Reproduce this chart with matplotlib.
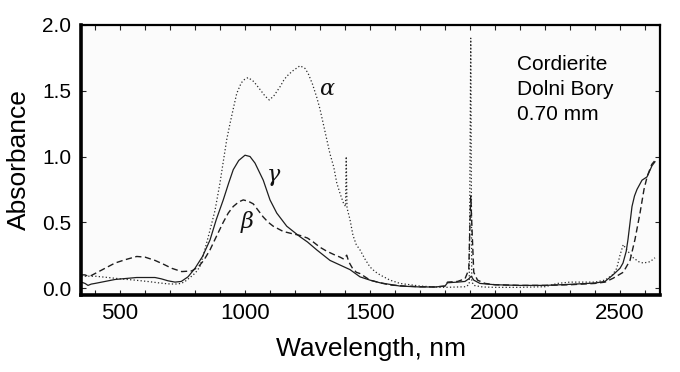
import matplotlib
matplotlib.use("Agg")
import matplotlib.pyplot as plt
from matplotlib.ticker import MultipleLocator, FormatStrFormatter

plt.rcParams['font.family'] = ['Liberation Sans', 'DejaVu Sans']

# gamma (solid)
gamma_x = [345, 360, 372, 385, 400, 440, 480, 520, 567, 640, 665, 692, 720, 745, 772, 800,
           830, 860, 885, 913, 935, 953, 975, 1000, 1020, 1040, 1073, 1100, 1127, 1167,
           1220, 1250, 1287, 1340, 1380, 1420, 1460, 1500, 1540, 1620, 1700, 1760, 1800,
           1810, 1850, 1880, 1895, 1905, 1915, 1940, 2000, 2100, 2200, 2300, 2400, 2440,
           2472, 2500, 2512, 2525, 2532, 2548, 2558, 2568, 2588, 2608, 2628, 2640]
gamma_y = [0.045, 0.035, 0.02, 0.03, 0.035, 0.05, 0.065, 0.072, 0.08, 0.08, 0.07, 0.055,
           0.045, 0.05, 0.085, 0.15, 0.24, 0.365, 0.52, 0.67, 0.80, 0.90, 0.97, 1.01, 1.0,
           0.95, 0.82, 0.67, 0.57, 0.47, 0.39, 0.35, 0.29, 0.21, 0.175, 0.14, 0.085, 0.06,
           0.04, 0.015, 0.008, 0.008, 0.015, 0.04, 0.045, 0.05, 0.07, 0.09, 0.06, 0.035,
           0.025, 0.02, 0.02, 0.028, 0.038, 0.05, 0.10, 0.15, 0.19, 0.28, 0.37, 0.62, 0.70,
           0.75, 0.82, 0.845, 0.93, 0.96]

# beta (dashed)
beta_x = [345, 360, 372, 385, 400, 440, 480, 520, 567, 600, 640, 675, 707, 747, 787, 813,
          835, 860, 885, 913, 933, 953, 975, 993, 1013, 1033, 1053, 1073, 1093, 1113, 1153,
          1185, 1220, 1250, 1273, 1300, 1327, 1355, 1380, 1395, 1407, 1415, 1430, 1445,
          1460, 1500, 1540, 1580, 1640, 1700, 1760, 1800, 1810, 1850, 1880, 1895, 1903,
          1908, 1915, 1930, 1960, 2000, 2100, 2200, 2300, 2400, 2440, 2473, 2513, 2540,
          2560, 2580, 2596, 2609, 2627, 2640]
beta_y = [0.10, 0.10, 0.09, 0.095, 0.11, 0.15, 0.19, 0.215, 0.24, 0.235, 0.21, 0.18, 0.15,
          0.125, 0.13, 0.16, 0.21, 0.29, 0.39, 0.50, 0.57, 0.62, 0.655, 0.67, 0.66, 0.64,
          0.59, 0.54, 0.50, 0.47, 0.43, 0.415, 0.40, 0.38, 0.35, 0.31, 0.28, 0.255, 0.235,
          0.22, 0.25, 0.20, 0.15, 0.12, 0.11, 0.06, 0.04, 0.023, 0.015, 0.01, 0.008, 0.015,
          0.045, 0.05, 0.07, 0.14, 0.70, 0.45, 0.12, 0.06, 0.035, 0.025, 0.02, 0.02, 0.025,
          0.035, 0.045, 0.075, 0.12, 0.21, 0.37, 0.57, 0.75, 0.85, 0.94, 0.97]

# alpha (dotted)
alpha_x = [345, 400, 452, 500, 560, 610, 652, 690, 720, 745, 760, 780, 793, 808, 820, 835,
           853, 868, 880, 900, 913, 927, 940, 955, 967, 985, 1000, 1013, 1035, 1060, 1080,
           1097, 1115, 1140, 1155, 1167, 1190, 1220, 1240, 1253, 1270, 1287, 1300, 1313,
           1327, 1340, 1355, 1367, 1380, 1393, 1402, 1405, 1408, 1420, 1432, 1445, 1460,
           1480, 1500, 1520, 1540, 1580, 1620, 1700, 1760, 1800, 1850, 1885, 1897, 1903,
           1907, 1915, 1950, 2000, 2100, 2200, 2250, 2300, 2400, 2440, 2470, 2487, 2500,
           2513, 2527, 2553, 2575, 2593, 2620, 2640]
alpha_y = [0.09, 0.09, 0.08, 0.07, 0.06, 0.05, 0.04, 0.032, 0.03, 0.035, 0.05, 0.08, 0.10,
           0.13, 0.165, 0.26, 0.39, 0.50, 0.59, 0.80, 0.96, 1.13, 1.25, 1.38, 1.48, 1.56,
           1.59, 1.60, 1.57, 1.51, 1.46, 1.43, 1.46, 1.53, 1.58, 1.61, 1.65, 1.69, 1.67,
           1.63, 1.55, 1.45, 1.36, 1.25, 1.13, 1.02, 0.92, 0.80, 0.72, 0.65, 0.62, 1.00,
           0.61, 0.52, 0.40, 0.33, 0.29, 0.22, 0.16, 0.125, 0.10, 0.06, 0.035, 0.015, 0.008,
           0.005, 0.008, 0.01, 0.03, 1.90, 0.05, 0.02, 0.008, 0.005, 0.005, 0.01, 0.035,
           0.045, 0.045, 0.06, 0.10, 0.15, 0.25, 0.33, 0.29, 0.23, 0.20, 0.19, 0.20, 0.23]

x_ticks = [500, 1000, 1500, 2000, 2500]
y_ticks = [0.0, 0.5, 1.0, 1.5, 2.0]
series_labels = ["\u03b1", "\u03b3", "\u03b2"]
sample_text = "Cordierite\nDolni Bory\n0.70 mm"

fig = plt.figure(figsize=(6.8, 3.72), dpi=100)
ax = fig.add_axes([81/680, 1-295/372, (660-81)/680, (295-25)/372])
ax.set_facecolor('#fbfbfb')

lc = '#1e1e1e'
ax.plot(alpha_x, alpha_y, color='#2a2a2a', lw=0.9, linestyle=(0, (1, 1.8)))
ax.plot(gamma_x, gamma_y, color=lc, lw=0.9, linestyle='-')
ax.plot(beta_x, beta_y, color=lc, lw=1.0, linestyle=(0, (4.5, 2.5)))

ax.set_xlim(344, 2660)
ax.set_ylim(-0.053, 2.0)
ax.set_xticks(x_ticks)
ax.xaxis.set_minor_locator(MultipleLocator(100))
ax.set_yticks(y_ticks)
ax.yaxis.set_major_formatter(FormatStrFormatter('%.1f'))

ax.tick_params(axis='both', which='both', direction='in', top=True, right=True,
               length=3.5, width=0.8, color='#222222')
ax.tick_params(axis='x', which='major', labelsize=16, pad=6)
ax.tick_params(axis='y', which='major', labelsize=15, pad=7)

for side in ['left', 'bottom']:
    ax.spines[side].set_linewidth(2.6)
for side in ['top', 'right']:
    ax.spines[side].set_linewidth(1.6)

ax.set_xlabel("Wavelength, nm", fontsize=19, labelpad=9)
ax.set_ylabel("Absorbance", fontsize=19, labelpad=8)

greek = dict(fontsize=16, style='italic', family=['DejaVu Serif'], color='#111111',
             ha='center', va='center')
ax.text(1328, 1.51, series_labels[0], **greek)
ax.text(1112, 0.86, series_labels[1], **greek)
ax.text(1008, 0.50, series_labels[2], **greek)

ax.text(2088, 1.77, sample_text, fontsize=15, ha='left', va='top', linespacing=1.38)

fig.savefig("out.png", dpi=100)
